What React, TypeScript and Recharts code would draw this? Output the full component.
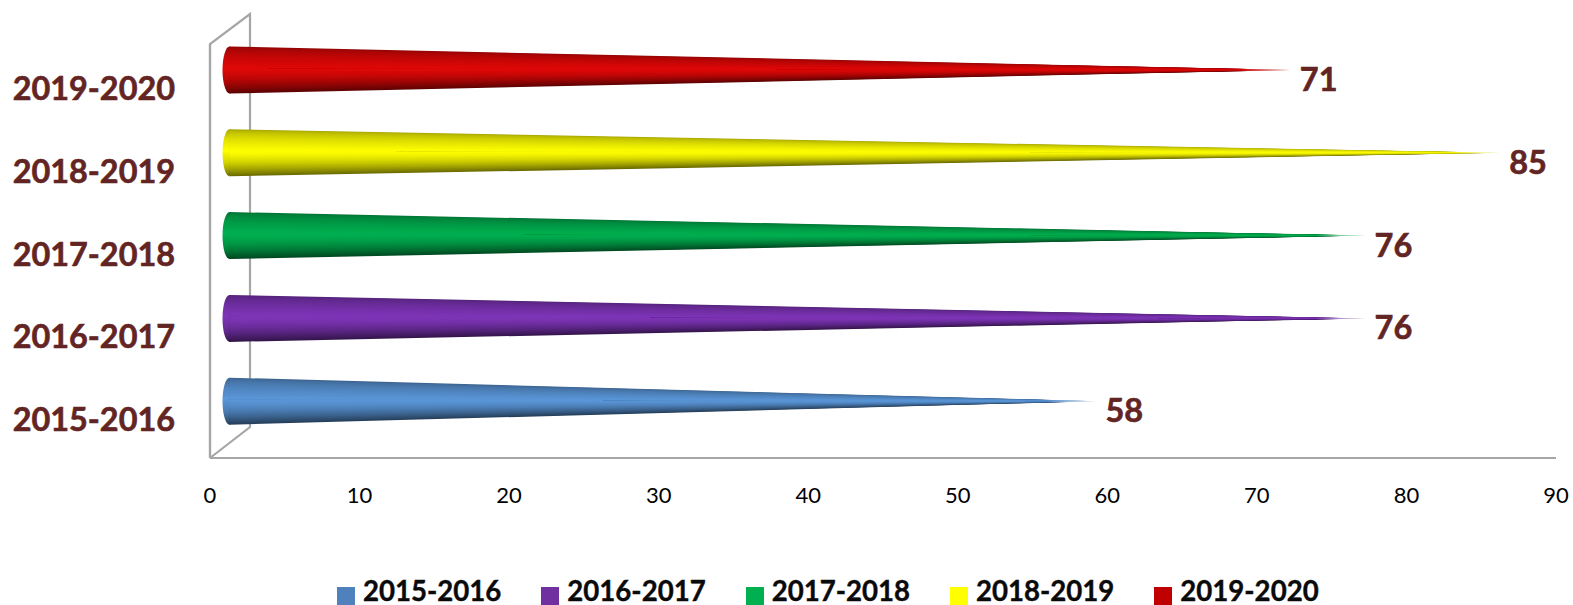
import React from "react";
import { BarChart, Bar, XAxis, YAxis, Legend, LabelList } from "recharts";

const categories = ["2015-2016", "2016-2017", "2017-2018", "2018-2019", "2019-2020"];
const values = [58, 76, 76, 85, 71];
const legendColors = ["#4F81BD", "#7030A0", "#00B050", "#FFFF00", "#C00000"];
const bodyColors = ["#5B97D9", "#7F35B8", "#00B050", "#FFFF00", "#E00808"];
const xTicks = [0, 10, 20, 30, 40, 50, 60, 70, 80, 90];

const rows = categories.map((c, i) => ({ category: c, [c]: values[i] }));

const LABEL = "#632523";
const FRAME = "#A6A6A6";
const FONT = "Lato, Carlito, sans-serif";
const DX = 19.5;
const DY = -15.5;
const STEPS = 24;
const HIGHLIGHT = 0.45;

const shade = (hex: string, t: number) => {
  const f = t < HIGHLIGHT ? 0.66 + 0.34 * Math.pow(t / HIGHLIGHT, 0.6) : 1 - 0.58 * Math.pow((t - HIGHLIGHT) / (1 - HIGHLIGHT), 1.6);
  const n = parseInt(hex.slice(1), 16);
  const ch = (v: number) => Math.round(v * f);
  return `rgb(${ch((n >> 16) & 255)},${ch((n >> 8) & 255)},${ch(n & 255)})`;
};

const Cone = (props: any) => {
  const { x, y, width, height, index, color, name } = props;
  if (!width || width <= 0) return null;
  const bx = x + DX;
  const tip = x + width + DX;
  const top = y + DY;
  const cy = top + height / 2;
  const hl = top + height * HIGHLIGHT;
  const id = `g-${name}-${index}`;
  const layers = [];
  // Nested wedges from each outer edge in to the highlight line: the silhouette is drawn once, so the edges stay clean.
  for (let i = 0; i < STEPS; i++) {
    const u = i / STEPS;
    const lowT = 1 - (1 - HIGHLIGHT) * u;
    layers.push(
      <polygon key={`l${i}`} points={`${bx},${top + height * lowT} ${bx},${hl} ${tip},${cy}`} fill={shade(color, lowT)} />
    );
  }
  for (let i = 0; i < STEPS; i++) {
    const u = i / STEPS;
    const upT = HIGHLIGHT * u;
    layers.push(
      <polygon key={`u${i}`} points={`${bx},${top + height * upT} ${bx},${hl + 0.3} ${tip},${cy}`} fill={shade(color, upT)} />
    );
  }
  return (
    <g>
      <defs>
        <linearGradient id={id} x1="0" y1="0" x2="0" y2="1">
          {[0, 0.2, 0.45, 0.7, 0.85, 1].map((t) => (
            <stop key={t} offset={t} stopColor={shade(color, t)} />
          ))}
        </linearGradient>
        <linearGradient id={id + "f"} x1="0" y1="0" x2="1" y2="0">
          <stop offset="0" stopColor="#fff" stopOpacity={0} />
          <stop offset="1" stopColor="#fff" stopOpacity={1} />
        </linearGradient>
      </defs>
      <ellipse cx={bx} cy={cy} rx={7} ry={height / 2} fill={`url(#${id})`} />
      {layers}
      <rect x={tip - 50} y={cy - 4} width={51} height={8} fill={`url(#${id}f)`} />
    </g>
  );
};

const ValueLabel = (props: any) => {
  const { x, y, width, height, value } = props;
  if (!value) return null;
  return (
    <text
      x={x + width + DX + 8.5}
      y={y + height / 2 + DY + 21}
      fill={LABEL}
      stroke={LABEL}
      strokeWidth={0.6}
      fontFamily={FONT}
      fontWeight={700}
      fontSize={32.5}
    >
      {value}
    </text>
  );
};

const legendText = (v: string) => (
  <span
    style={{
      color: "#0a0a0a",
      fontFamily: FONT,
      fontWeight: 700,
      fontSize: 27.6,
      lineHeight: "26px",
      marginLeft: 4,
      marginRight: 30,
      WebkitTextStroke: "0.4px #0a0a0a",
    }}
  >
    {v}
  </span>
);

export default function App() {
  return (
    <div style={{ position: "absolute", left: 0, top: 0, width: 1573, height: 605, background: "#fff" }}>
      <BarChart
        width={1573}
        height={605}
        data={rows}
        layout="vertical"
        margin={{ top: 44, right: 17, bottom: 0, left: 0 }}
        barSize={47}
      >
        <g stroke={FRAME} strokeWidth={2.2} fill="none">
          <polyline points="210,458 210,44 250,14 250,427 210,458" />
        </g>
        <XAxis
          type="number"
          domain={[0, 90]}
          ticks={xTicks}
          interval={0}
          height={120}
          tickLine={false}
          tickMargin={23}
          axisLine={{ stroke: FRAME, strokeWidth: 2.2 }}
          tick={{ fill: "#000", fontFamily: FONT, fontSize: 22 }}
        />
        <YAxis
          type="category"
          dataKey="category"
          reversed
          width={210}
          tickLine={false}
          tickSize={0}
          tickMargin={35}
          axisLine={{ stroke: FRAME, strokeWidth: 2.2 }}
          tick={{ fill: LABEL, stroke: LABEL, strokeWidth: 0.6, fontFamily: FONT, fontWeight: 700, fontSize: 32.4, dy: 3 }}
        />
        {categories.map((c, i) => (
          <Bar
            key={c}
            dataKey={c}
            name={c}
            stackId="s"
            fill={legendColors[i]}
            isAnimationActive={false}
            shape={(p: any) => <Cone {...p} color={bodyColors[i]} />}
          >
            <LabelList dataKey={c} content={<ValueLabel />} />
          </Bar>
        ))}
        <Legend
          verticalAlign="bottom"
          align="left"
          height={27}
          iconType="square"
          iconSize={18}
          formatter={legendText}
          wrapperStyle={{ top: 578, left: 337, width: 1230, textAlign: "left", lineHeight: "26px", fontSize: 20 }}
        />
      </BarChart>
    </div>
  );
}
